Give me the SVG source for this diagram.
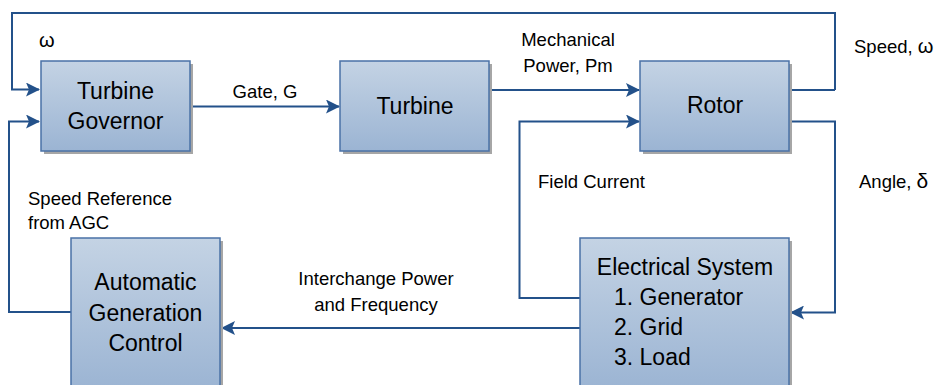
<svg xmlns="http://www.w3.org/2000/svg" width="937" height="385" viewBox="0 0 937 385">
<defs>
<linearGradient id="boxfill" x1="0" y1="0" x2="0" y2="1">
<stop offset="0" stop-color="#c4d3e4"/>
<stop offset="1" stop-color="#9bb4d3"/>
</linearGradient>
<linearGradient id="boxfillTall" gradientUnits="userSpaceOnUse" x1="0" y1="238" x2="0" y2="390">
<stop offset="0" stop-color="#c4d3e4"/>
<stop offset="1" stop-color="#9bb4d3"/>
</linearGradient>
<marker id="arr" viewBox="0 0 14 14" refX="13" refY="7" markerWidth="14" markerHeight="14" markerUnits="userSpaceOnUse" orient="auto">
<path d="M0,0 L14,7 L0,14 L3,7 Z" fill="#23518a"/>
</marker>
</defs>
<style>
.box{stroke:#4a72a6;stroke-width:1.5}
.shadow{fill:#a6a6a6}
.lbl{font-family:"Liberation Sans",Arial,sans-serif;font-size:23px;fill:#000;text-anchor:middle}
.small{font-family:"Liberation Sans",Arial,sans-serif;font-size:18.5px;fill:#000}
.conn{fill:none;stroke:#23518a;stroke-width:2}
</style>
<rect width="937" height="385" fill="#ffffff"/>

<g id="connectors">
<path class="conn" d="M835,90 H790 M835,90 V13 H12 V89.5 H39" marker-end="url(#arr)"/>
<path class="conn" d="M71,312 H9 V121.5 H39" marker-end="url(#arr)"/>
<path class="conn" d="M190,106.5 H339" marker-end="url(#arr)"/>
<path class="conn" d="M489,90 H639" marker-end="url(#arr)"/>
<path class="conn" d="M580,298 H519.5 V121.5 H639" marker-end="url(#arr)"/>
<path class="conn" d="M790,121.5 H835 V312.5 H791" marker-end="url(#arr)"/>
<path class="conn" d="M580,328 H222" marker-end="url(#arr)"/>
</g>

<g id="turbine-governor">
<rect class="shadow" x="44" y="64" width="149" height="90"/>
<rect class="box" x="41" y="61" width="149" height="90" fill="url(#boxfill)"/>
<text class="lbl" x="115.5" y="99">Turbine</text>
<text class="lbl" x="115.5" y="129">Governor</text>
</g>

<g id="turbine">
<rect class="shadow" x="343" y="64" width="149" height="90"/>
<rect class="box" x="340" y="61" width="149" height="90" fill="url(#boxfill)"/>
<text class="lbl" x="415" y="114">Turbine</text>
</g>

<g id="rotor">
<rect class="shadow" x="643" y="64" width="149" height="90"/>
<rect class="box" x="640" y="61" width="149" height="90" fill="url(#boxfill)"/>
<text class="lbl" x="715" y="113">Rotor</text>
</g>

<g id="agc">
<rect class="shadow" x="74" y="241" width="149" height="150"/>
<rect class="box" x="71" y="238" width="149" height="152" fill="url(#boxfillTall)"/>
<text class="lbl" x="145.5" y="290">Automatic</text>
<text class="lbl" x="145.5" y="320.5">Generation</text>
<text class="lbl" x="145.5" y="350.5">Control</text>
</g>

<g id="electrical-system">
<rect class="shadow" x="583" y="241" width="209" height="150"/>
<rect class="box" x="580" y="238" width="209" height="152" fill="url(#boxfillTall)"/>
<text class="lbl" x="685" y="275">Electrical System</text>
<text class="lbl" x="614" y="305" style="text-anchor:start">1. Generator</text>
<text class="lbl" x="614" y="335" style="text-anchor:start">2. Grid</text>
<text class="lbl" x="614" y="365" style="text-anchor:start">3. Load</text>
</g>

<g id="labels">
<text class="small" x="39" y="47" style="font-size:20px">ω</text>
<text class="small" x="265" y="98" text-anchor="middle">Gate, G</text>
<text class="small" x="568" y="46" text-anchor="middle">Mechanical</text>
<text class="small" x="568" y="71.5" text-anchor="middle">Power, Pm</text>
<text class="small" x="854" y="53">Speed, <tspan style="font-size:20px">ω</tspan></text>
<text class="small" x="538" y="188">Field Current</text>
<text class="small" x="859" y="188">Angle, <tspan style="font-size:21px">δ</tspan></text>
<text class="small" x="28" y="205">Speed Reference</text>
<text class="small" x="28" y="229">from AGC</text>
<text class="small" x="376" y="285" text-anchor="middle">Interchange Power</text>
<text class="small" x="376" y="310.5" text-anchor="middle">and Frequency</text>
</g>
</svg>
